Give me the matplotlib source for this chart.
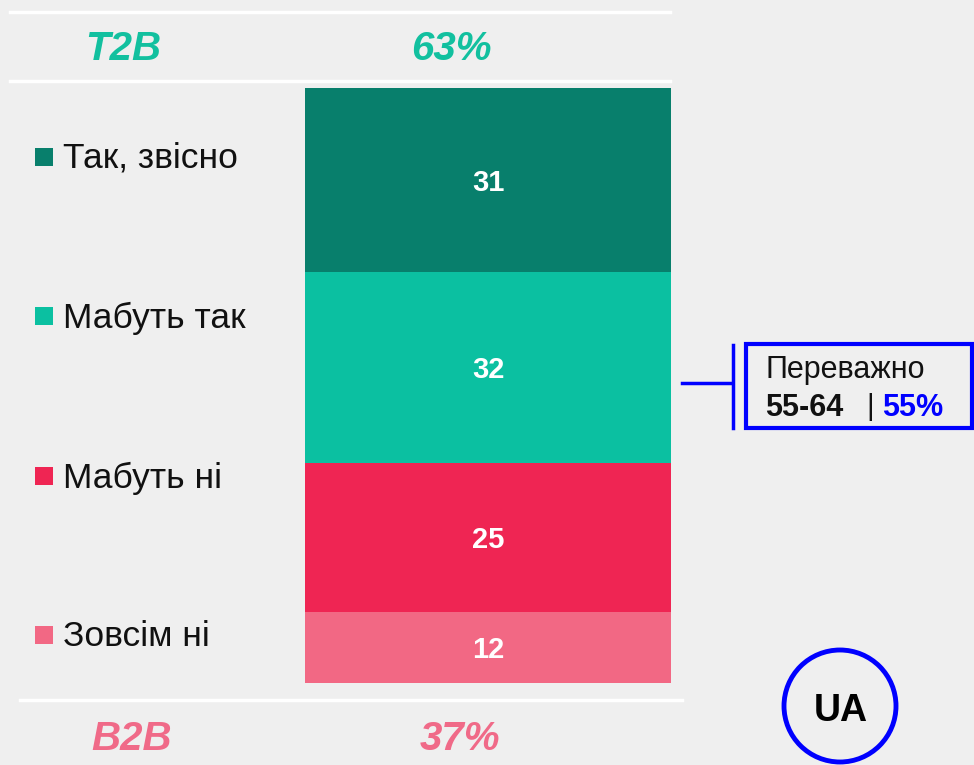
import matplotlib.pyplot as plt
from matplotlib.patches import Rectangle, Circle

plt.rcParams['font.family'] = ['Liberation Sans', 'DejaVu Sans']

categories = ['Так, звісно', 'Мабуть так', 'Мабуть ні', 'Зовсім ні']
values = [31, 32, 25, 12]
colors = ['#087F6C', '#0BC0A1', '#EF2553', '#F26884']
t2b_label, t2b_value = 'T2B', '63%'
b2b_label, b2b_value = 'B2B', '37%'
callout_title = 'Переважно'
callout_age = '55-64'
callout_share = '55%'
country = 'UA'

W, H = 974, 765
bg = '#EFEFEF'
fig = plt.figure(figsize=(W / 100, H / 100), dpi=100, facecolor=bg)

# overlay axes in pixel coordinates
ov = fig.add_axes([0, 0, 1, 1], facecolor=bg)
ov.set_xlim(0, W)
ov.set_ylim(H, 0)
ov.axis('off')

# stacked bar
ax = fig.add_axes([305 / W, 1 - 683 / H, 366 / W, 595 / H])
ax.set_xlim(-0.5, 0.5)
ax.set_ylim(sum(values), 0)
ax.axis('off')
bottom = 0
for v, c in zip(values, colors):
    ax.bar(0, v, width=1, bottom=bottom, color=c, linewidth=0)
    ax.text(0, bottom + v / 2 + 0.45, str(v), ha='center', va='center',
            color='white', fontsize=21, fontweight='bold')
    bottom += v

# white separator lines
ov.plot([10, 670], [12, 12], color='white', lw=2.5)
ov.plot([10, 670], [81, 81], color='white', lw=2.5)
ov.plot([20, 682], [700, 700], color='white', lw=2.5)

# T2B / B2B
big = dict(ha='center', va='center', fontsize=29, fontweight='bold', fontstyle='italic')
ov.text(123, 49, t2b_label, color='#12C09F', **big)
ov.text(451, 49, t2b_value, color='#12C09F', **big)
ov.text(132, 739, b2b_label, color='#F06A88', **big)
ov.text(460, 739, b2b_value, color='#F06A88', **big)

# legend
rows_y = [157, 316, 476, 635]
for lab, c, y in zip(categories, colors, rows_y):
    ov.add_patch(Rectangle((35, y - 9), 18, 18, color=c, lw=0))
    ov.text(63, y + 2, lab, ha='left', va='center', fontsize=25.5, color='#111111')

# callout
ov.plot([682, 732], [383, 383], color='#0000FF', lw=2.5)
ov.plot([733, 733], [345, 428], color='#0000FF', lw=2.5)
ov.add_patch(Rectangle((746, 344), 226, 84, fill=False, ec='#0000FF', lw=3))
ov.text(765, 370, callout_title, ha='left', va='center', fontsize=22, color='#111111')
ov.text(765, 408, callout_age, ha='left', va='center', fontsize=22,
        fontweight='bold', color='#111111')
ov.text(866, 407, '|', ha='left', va='center', fontsize=21, color='#111111')
ov.text(882, 408, callout_share, ha='left', va='center', fontsize=22,
        fontweight='bold', color='#0000FF')

# country badge
ov.add_patch(Circle((840, 706), 56, fill=False, ec='#0000FF', lw=3.5))
ov.text(841, 711, country, ha='center', va='center', fontsize=27,
        fontweight='bold', color='black')

fig.savefig('out.png', dpi=100, facecolor=bg)
